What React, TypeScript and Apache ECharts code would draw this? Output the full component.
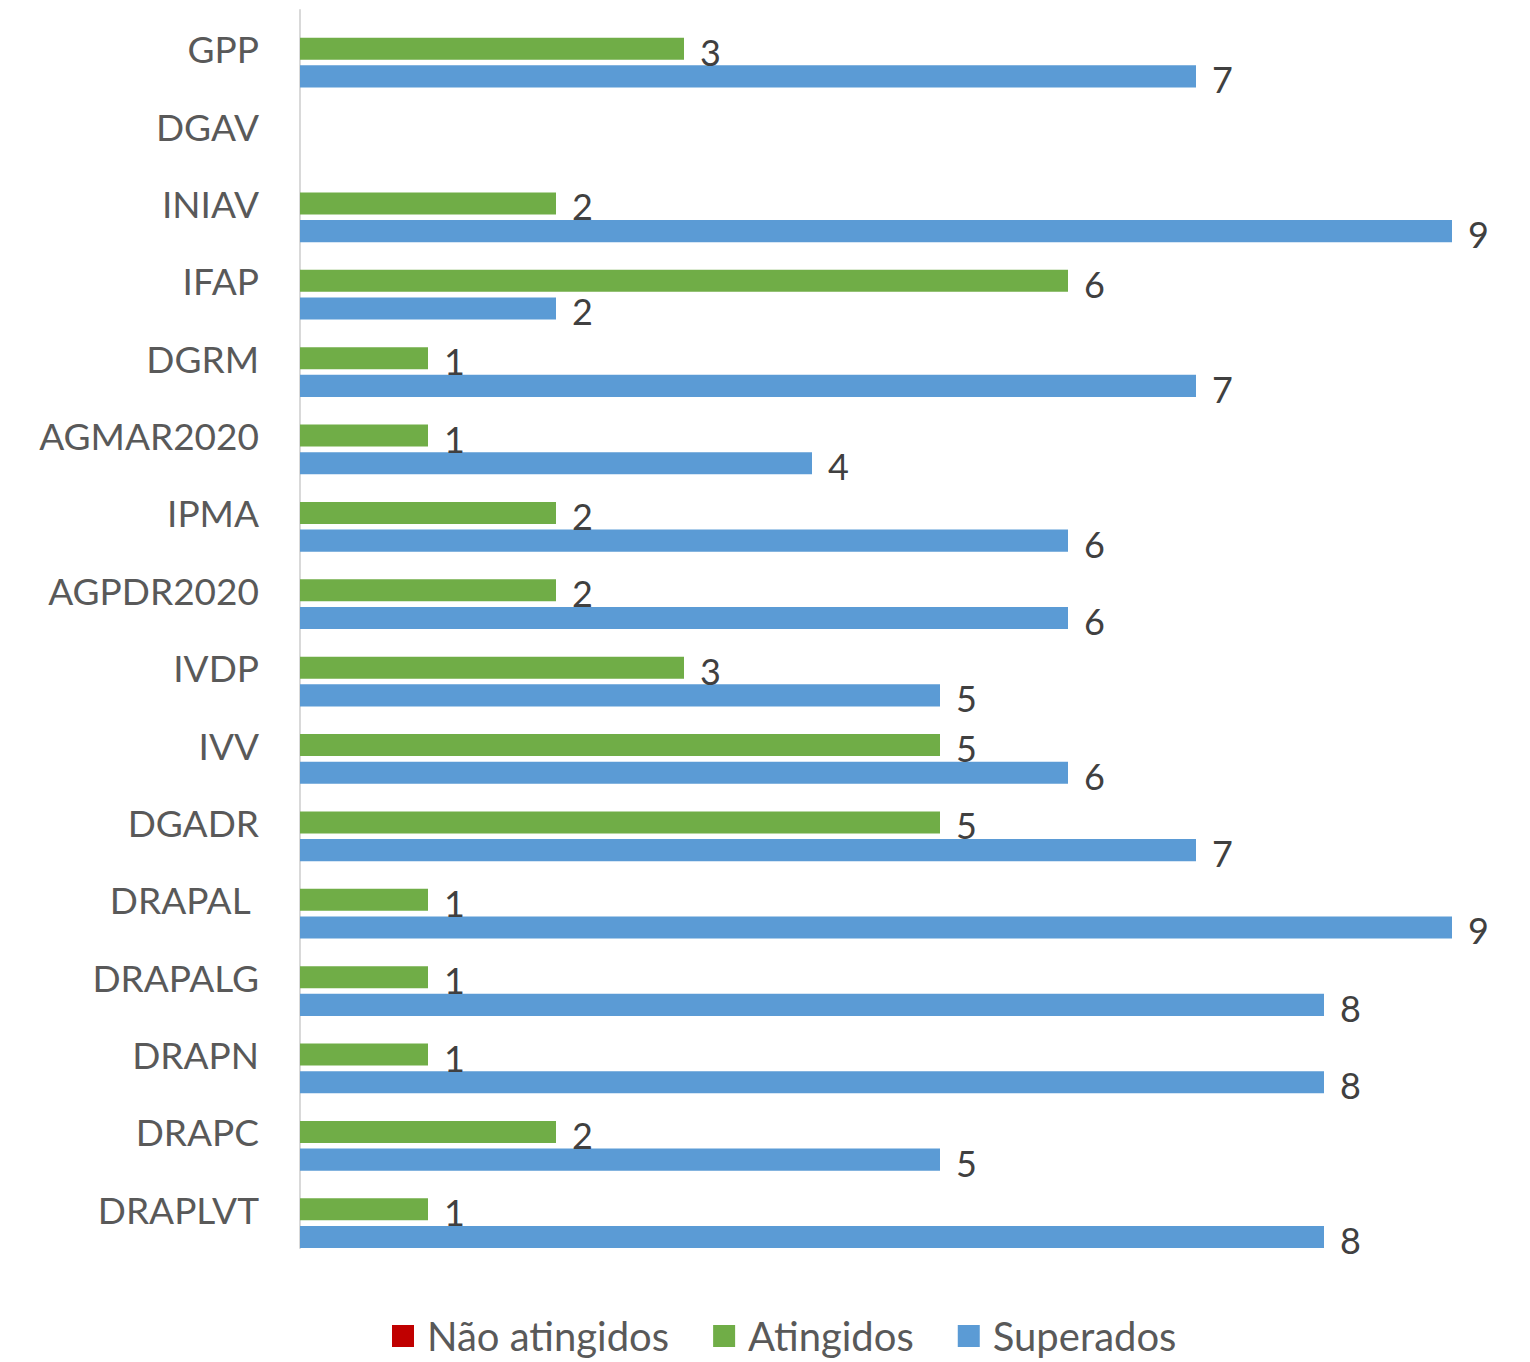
import React, { useEffect, useRef } from "react";
import * as echarts from "echarts";

const categories = [
  "GPP", "DGAV", "INIAV", "IFAP", "DGRM", "AGMAR2020", "IPMA", "AGPDR2020",
  "IVDP", "IVV", "DGADR", "DRAPAL ", "DRAPALG", "DRAPN", "DRAPC", "DRAPLVT",
];
const naoAtingidos: (number | null)[] = [
  null, null, null, null, null, null, null, null,
  null, null, null, null, null, null, null, null,
];
const atingidos: (number | null)[] = [3, null, 2, 6, 1, 1, 2, 2, 3, 5, 5, 1, 1, 1, 2, 1];
const superados: (number | null)[] = [7, null, 9, 2, 7, 4, 6, 6, 5, 6, 7, 9, 8, 8, 5, 8];

const FONT = "Lato";

export default function App() {
  const ref = useRef<HTMLDivElement>(null);
  useEffect(() => {
    if (!ref.current) return;
    const chart = echarts.init(ref.current, null, { renderer: "svg" });
    const label = {
      show: true,
      position: "right",
      distance: 16,
      fontSize: 36,
      fontFamily: FONT,
      color: "#404040",
      offset: [0, 3],
    };
    chart.setOption({
      animation: false,
      textStyle: { fontFamily: FONT },
      grid: { left: 300, right: 78, top: 10, bottom: 114, containLabel: false },
      xAxis: {
        type: "value",
        min: 0,
        max: 9,
        show: false,
      },
      yAxis: {
        type: "category",
        data: categories,
        inverse: true,
        axisTick: { show: false },
        axisLine: { show: true, lineStyle: { color: "#d9d9d9", width: 2 } },
        axisLabel: {
          margin: 41,
          fontSize: 37,
          fontFamily: FONT,
          color: "#595959",
          verticalAlign: "middle",
        },
        splitLine: { show: false },
      },
      legend: {
        bottom: 1,
        left: 387,
        itemWidth: 22,
        itemHeight: 22,
        itemGap: 44,
        icon: "rect",
        textStyle: { fontSize: 40, fontFamily: FONT, color: "#595959", padding: [0, 0, 0, 8] },
        data: ["Não atingidos", "Atingidos", "Superados"],
      },
      series: [
        {
          name: "Não atingidos",
          type: "bar",
          data: naoAtingidos,
          itemStyle: { color: "#C00000" },
          barGap: "25%",
          barCategoryGap: "0%",
          label,
        },
        {
          name: "Atingidos",
          type: "bar",
          data: atingidos,
          itemStyle: { color: "#70AD47" },
          barGap: "25%",
          barCategoryGap: "0%",
          label,
        },
        {
          name: "Superados",
          type: "bar",
          data: superados,
          itemStyle: { color: "#5B9BD5" },
          barGap: "25%",
          barCategoryGap: "0%",
          label,
        },
      ],
    });
    return () => chart.dispose();
  }, []);
  return (
    <div
      ref={ref}
      style={{ position: "absolute", left: 0, top: 0, width: 1530, height: 1362, background: "#fff" }}
    />
  );
}
